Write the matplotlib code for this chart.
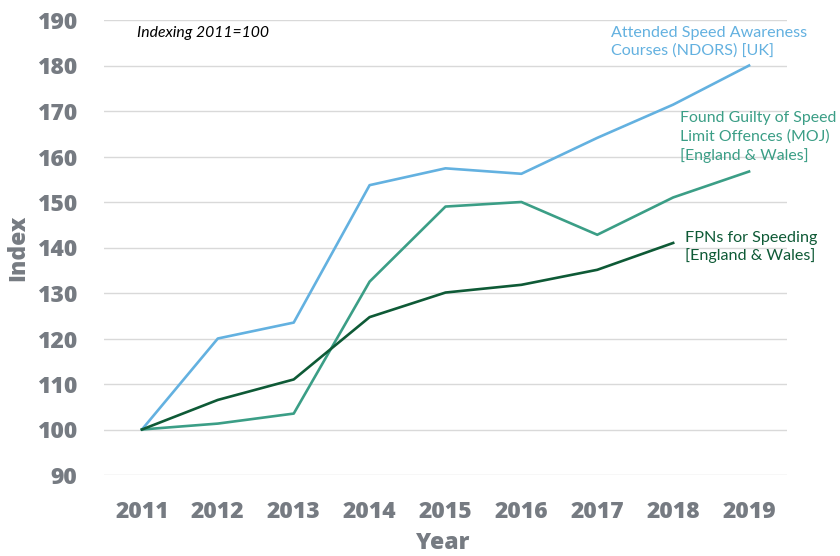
import matplotlib
matplotlib.use("Agg")
import matplotlib.pyplot as plt

years = [2011, 2012, 2013, 2014, 2015, 2016, 2017, 2018, 2019]
awareness = [100, 120.0, 123.5, 153.7, 157.4, 156.2, 164.1, 171.4, 180.0]
guilty = [100, 101.3, 103.5, 132.5, 149.0, 150.0, 142.8, 151.0, 156.7]
fpn_years = [2011, 2012, 2013, 2014, 2015, 2016, 2017, 2018]
fpn = [100, 106.5, 111.0, 124.7, 130.1, 131.8, 135.1, 141.0]
yticks = [90, 100, 110, 120, 130, 140, 150, 160, 170, 180, 190]

c_aw = "#63B1E0"
c_gu = "#3B9E86"
c_fp = "#0E5A36"
gray = "#767B82"

plt.rcParams['font.family'] = ['Lato', 'DejaVu Sans']
bold_font = ['Open Sans', 'DejaVu Sans']

fig = plt.figure(figsize=(8.4, 5.56), dpi=100)
ax = fig.add_axes([104/840, 1-475/556, (787-104)/840, (475-20)/556])

ax.plot(years, awareness, color=c_aw, lw=1.9, zorder=3)
ax.plot(years, guilty, color=c_gu, lw=1.9, zorder=3)
ax.plot(fpn_years, fpn, color=c_fp, lw=1.9, zorder=4)

ax.set_xlim(2010.5, 2019.5)
ax.set_ylim(90, 190)
ax.set_yticks(yticks)
ax.set_xticks(years)
ax.set_xticklabels([str(y) for y in years])
ax.grid(axis='y', color='#D9D9D9', lw=1)
ax.set_axisbelow(True)
for s in ax.spines.values():
    s.set_visible(False)
ax.tick_params(length=0)
ax.tick_params(axis='y', pad=19)
ax.tick_params(axis='x', pad=18)
for lab in ax.get_xticklabels() + ax.get_yticklabels():
    lab.set_fontsize(16.5)
    lab.set_fontweight(800)
    lab.set_color(gray)
    lab.set_family(bold_font)

ax.set_ylabel("Index", fontsize=16.5, fontweight=800, color=gray, family=bold_font)
ax.yaxis.label.set_va('center')
ax.yaxis.set_label_coords(-0.126, 0.5)
ax.set_xlabel("Year", fontsize=16.5, fontweight=800, color=gray, family=bold_font)
ax.xaxis.set_label_coords(0.496, -0.122)

ax.text(2010.93, 187.1, "Indexing 2011=100", fontsize=11.3, style='italic',
        color='black', va='center', ha='left')
ax.text(2017.18, 185.2, "Attended Speed Awareness\nCourses (NDORS) [UK]",
        fontsize=11.6, color=c_aw, va='center', ha='left', linespacing=1.3, clip_on=False)
ax.text(2018.09, 164.3, "Found Guilty of Speed\nLimit Offences (MOJ)\n[England & Wales]",
        fontsize=11.4, color=c_gu, va='center', ha='left', linespacing=1.35, clip_on=False)
ax.text(2018.16, 140.1, "FPNs for Speeding\n[England & Wales]",
        fontsize=11.6, color=c_fp, va='center', ha='left', linespacing=1.3, clip_on=False)

fig.savefig("out.png", dpi=100)
